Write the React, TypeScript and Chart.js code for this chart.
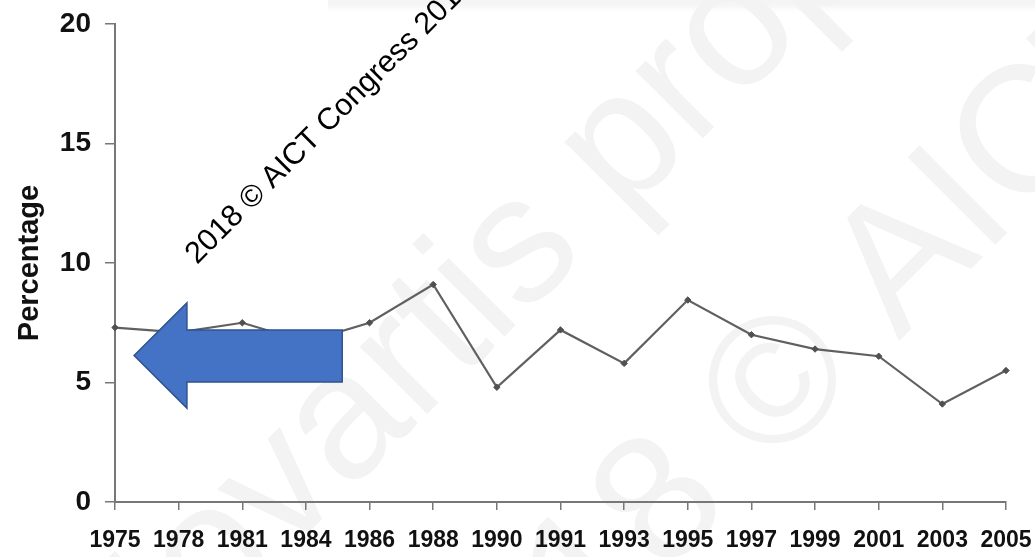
import { useEffect, useRef } from "react";
import { Chart, registerables } from "chart.js";

Chart.register(...registerables);

// Survey years (category axis) and the percentage recorded for each
const years = [
  "1975", "1978", "1981", "1984", "1986", "1988", "1990", "1991",
  "1993", "1995", "1997", "1999", "2001", "2003", "2005",
];
const percentages = [7.3, 7.1, 7.5, 6.7, 7.5, 9.1, 4.8, 7.2, 5.8, 8.45, 7.0, 6.4, 6.1, 4.1, 5.5];

// Value axis
const yMin = 0;
const yMax = 20;
const yStep = 5;
const yTitle = "Percentage";

// Overlay texts
const stampText = "2018 © AICT Congress 2018";
const faintLines = ["Novartis property", "2018 © AICT Congress 2018"];

// Block arrow pointing back at the early years, in axis units (category index / percentage)
const arrowTipIndex = 0.3;
const arrowHeadBaseIndex = 1.13;
const arrowTailIndex = 3.57;
const arrowHeadTop = 8.33;
const arrowHeadBottom = 3.93;
const arrowShaftTop = 7.2;
const arrowShaftBottom = 5.02;

const AXIS_COLOR = "#777777";
const LABEL_COLOR = "#111111";
const FONT = "'Liberation Sans', Arial, sans-serif";

const backdropPlugin = {
  id: "backdrop",
  beforeDraw(chart: Chart) {
    const { ctx, width, height } = chart;
    ctx.save();
    ctx.fillStyle = "#ffffff";
    ctx.fillRect(0, 0, width, height);

    // pale strip along the top edge
    const grad = ctx.createLinearGradient(0, 0, 0, 14);
    grad.addColorStop(0, "#f4f4f4");
    grad.addColorStop(0.45, "#f6f6f6");
    grad.addColorStop(1, "rgba(255,255,255,0)");
    ctx.fillStyle = grad;
    ctx.fillRect(328, 0, width - 328, 14);

    // large faint diagonal lettering
    ctx.fillStyle = "#f3f3f3";
    ctx.font = `180px ${FONT}`;
    ctx.textBaseline = "alphabetic";
    ctx.textAlign = "left";
    const origins = [
      [121, 720],
      [451, 789],
    ];
    faintLines.forEach((t, i) => {
      ctx.save();
      ctx.translate(origins[i][0], origins[i][1]);
      ctx.rotate(-Math.PI / 4);
      ctx.fillText(t, 0, 0);
      ctx.restore();
    });
    ctx.restore();
  },
};

const overlayPlugin = {
  id: "overlay",
  afterDatasetsDraw(chart: Chart) {
    const { ctx } = chart;
    const xs = chart.scales.x;
    const ys = chart.scales.y;
    const px = (v: number) => xs.getPixelForValue(v);
    const py = (v: number) => ys.getPixelForValue(v);
    const tipY = (arrowHeadTop + arrowHeadBottom) / 2;

    ctx.save();
    ctx.beginPath();
    ctx.moveTo(px(arrowTipIndex), py(tipY));
    ctx.lineTo(px(arrowHeadBaseIndex), py(arrowHeadTop));
    ctx.lineTo(px(arrowHeadBaseIndex), py(arrowShaftTop));
    ctx.lineTo(px(arrowTailIndex), py(arrowShaftTop));
    ctx.lineTo(px(arrowTailIndex), py(arrowShaftBottom));
    ctx.lineTo(px(arrowHeadBaseIndex), py(arrowShaftBottom));
    ctx.lineTo(px(arrowHeadBaseIndex), py(arrowHeadBottom));
    ctx.closePath();
    ctx.fillStyle = "#4472c4";
    ctx.fill();
    ctx.lineWidth = 1.5;
    ctx.strokeStyle = "#2f528f";
    ctx.stroke();
    ctx.restore();
  },
  afterDraw(chart: Chart) {
    const { ctx } = chart;
    ctx.save();
    ctx.translate(197, 265);
    ctx.rotate(-Math.PI / 4);
    ctx.fillStyle = "#000000";
    ctx.font = `30.5px ${FONT}`;
    ctx.textAlign = "left";
    ctx.textBaseline = "alphabetic";
    ctx.fillText(stampText, 0, 0);
    ctx.restore();
  },
};

export default function App() {
  const canvasRef = useRef<HTMLCanvasElement | null>(null);

  useEffect(() => {
    const canvas = canvasRef.current;
    if (!canvas) return;
    const chart = new Chart(canvas, {
      type: "line",
      data: {
        labels: years,
        datasets: [
          {
            data: percentages,
            borderColor: "#606060",
            borderWidth: 2.2,
            pointStyle: "rectRot",
            pointRadius: 3.2,
            pointBackgroundColor: "#505050",
            pointBorderColor: "#505050",
            pointBorderWidth: 1,
            tension: 0,
            fill: false,
          },
        ],
      },
      options: {
        animation: false,
        responsive: false,
        events: [],
        layout: { padding: { top: 24, right: 29, left: 0, bottom: 0 } },
        plugins: {
          legend: { display: false },
          tooltip: { enabled: false },
        },
        scales: {
          x: {
            type: "category",
            offset: false,
            grid: {
              display: true,
              drawOnChartArea: false,
              drawTicks: true,
              tickLength: 8,
              color: AXIS_COLOR,
              lineWidth: 1.5,
            },
            border: { display: true, color: AXIS_COLOR, width: 2 },
            ticks: {
              color: LABEL_COLOR,
              autoSkip: false,
              maxRotation: 0,
              padding: 17,
              font: { family: FONT, size: 23, weight: "bold" },
            },
            afterFit: (scale: any) => {
              scale.height = 55;
              scale.paddingLeft = 0;
              scale.paddingRight = 0;
            },
          },
          y: {
            min: yMin,
            max: yMax,
            grid: {
              display: true,
              drawOnChartArea: false,
              drawTicks: true,
              tickLength: 10,
              color: AXIS_COLOR,
              lineWidth: 1.5,
            },
            border: { display: true, color: AXIS_COLOR, width: 2 },
            ticks: {
              stepSize: yStep,
              color: LABEL_COLOR,
              padding: 14,
              font: { family: FONT, size: 28, weight: "bold" },
            },
            title: {
              display: true,
              text: yTitle,
              color: LABEL_COLOR,
              padding: { top: 13, bottom: 0 },
              font: { family: FONT, size: 29, weight: "bold" },
            },
            afterFit: (scale: any) => {
              scale.width = 115;
              scale.paddingTop = 0;
              scale.paddingBottom = 0;
            },
          },
        },
      },
      plugins: [backdropPlugin, overlayPlugin],
    });
    return () => chart.destroy();
  }, []);

  return (
    <div style={{ position: "fixed", left: 0, top: 0, width: 1035, height: 557, background: "#fff" }}>
      <canvas ref={canvasRef} width={1035} height={557} style={{ display: "block" }} />
    </div>
  );
}
